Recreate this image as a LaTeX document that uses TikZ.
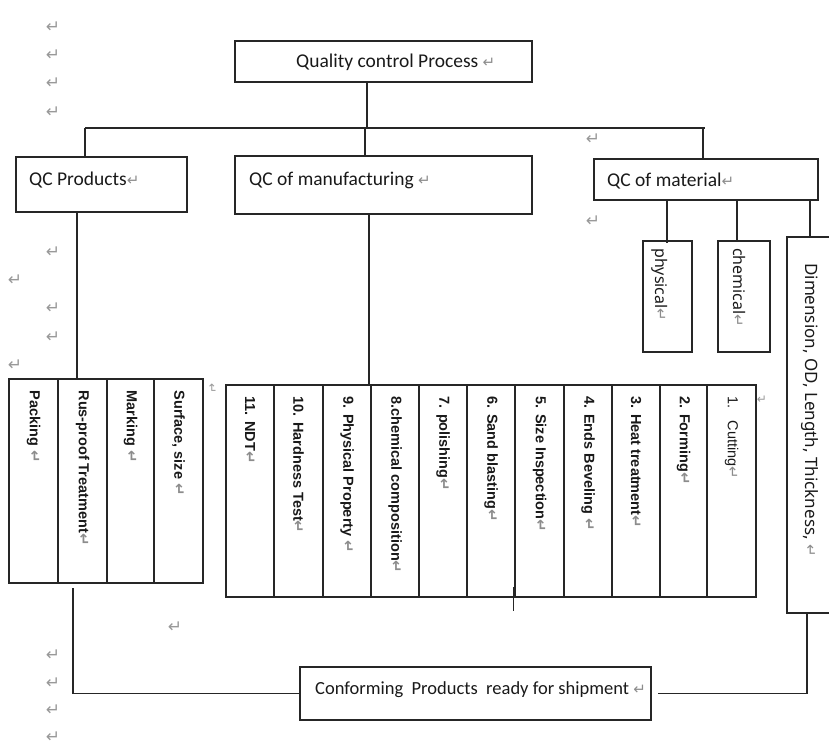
\documentclass[tikz,border=0pt]{standalone}
\usepackage{fontspec}
\setmainfont{Carlito}
\newfontfamily\arialf{Liberation Sans}
\newfontfamily\notof{Noto Sans}
\newfontfamily\dvf{DejaVu Sans}
\newcommand\rmk{{\dvf\color{black!45}\fontsize{15}{15}\selectfont ↵}}
\begin{document}
\begin{tikzpicture}[x=1pt,y=-1pt,
  box/.style={draw=black!85, line width=1.2pt, inner sep=0pt},
  cell/.style={draw=black!85, line width=1.2pt, inner sep=0pt},
  conn/.style={draw=black!85, line width=1.2pt},
  btext/.style={anchor=west, inner sep=0pt, text=black!90, font=\fontsize{19.5}{22}\selectfont},
  vtext/.style={rotate=-90, anchor=west, inner sep=0pt, text=black!90, font=\arialf\bfseries\fontsize{14.5}{16}\selectfont},
  vtextr/.style={rotate=-90, anchor=west, inner sep=0pt, text=black!90, font=\arialf\fontsize{14.5}{16}\selectfont},
  ntext/.style={rotate=-90, anchor=west, inner sep=0pt, text=black!90, font=\notof\fontsize{16}{18}\selectfont},
  wmark/.style={inner sep=0pt, text=black!40, font=\dvf\fontsize{17}{17}\selectfont}
]
\useasboundingbox (0,0) rectangle (829,747);

% top level
\node[box, minimum width=297pt, minimum height=41pt] (qcp) at (383.5,61.5) {};
\node[btext] (qcpt) at (296,62) {Quality control Process \rmk};

% second level
\node[box, minimum width=171pt, minimum height=55pt] (qcprod) at (101.5,184.5) {};
\node[btext] (qcprodt) at (29,180) {QC Products\rmk};
\node[box, minimum width=297pt, minimum height=58pt] (qcman) at (383.5,185) {};
\node[btext] (qcmant) at (249,180) {QC of manufacturing \rmk};
\node[box, minimum width=224pt, minimum height=41pt] (qcmat) at (706,179.5) {};
\node[btext] (qcmatt) at (607,181) {QC of material\rmk};

% material sub boxes
\node[box, minimum width=49pt, minimum height=111pt] (phys) at (667.5,296.5) {};
\node[ntext] (physt) at (660,248) {physical\rmk};
\node[box, minimum width=52pt, minimum height=111pt] (chem) at (744,296.5) {};
\node[ntext] (chemt) at (739,248) {chemical\rmk};
\node[box, minimum width=70pt, minimum height=376pt] (dim) at (822,425) {};
\node[ntext, font=\notof\fontsize{17}{19}\selectfont] (dimt) at (810,263) {Dimension, OD, Length, Thickness, \rmk};

% products table
\node[cell, minimum width=49pt, minimum height=204pt] (p1) at (33.5,481) {};
\node[cell, minimum width=49pt, minimum height=204pt] (p2) at (82.5,481) {};
\node[cell, minimum width=47pt, minimum height=204pt] (p3) at (130.5,481) {};
\node[cell, minimum width=49pt, minimum height=204pt] (p4) at (178.5,481) {};
\node[vtext] (p1t) at ([yshift=-12pt]p1.north) {Packing \rmk};
\node[vtext] (p2t) at ([yshift=-12pt]p2.north) {Rus-proof Treatment\rmk};
\node[vtext] (p3t) at ([yshift=-12pt]p3.north) {Marking \rmk};
\node[vtext] (p4t) at ([yshift=-12pt]p4.north) {Surface, size \rmk};

% manufacturing table
\node[cell, minimum width=48pt, minimum height=212pt] (m11) at (250,491) {};
\node[cell, minimum width=49pt, minimum height=212pt] (m10) at (298.5,491) {};
\node[cell, minimum width=48pt, minimum height=212pt] (m9) at (347,491) {};
\node[cell, minimum width=48pt, minimum height=212pt] (m8) at (395,491) {};
\node[cell, minimum width=48pt, minimum height=212pt] (m7) at (443,491) {};
\node[cell, minimum width=48pt, minimum height=212pt] (m6) at (491,491) {};
\node[cell, minimum width=49pt, minimum height=212pt] (m5) at (539.5,491) {};
\node[cell, minimum width=48pt, minimum height=212pt] (m4) at (588,491) {};
\node[cell, minimum width=48pt, minimum height=212pt] (m3) at (636,491) {};
\node[cell, minimum width=47pt, minimum height=212pt] (m2) at (683.5,491) {};
\node[cell, minimum width=49pt, minimum height=212pt] (m1) at (731.5,491) {};
\node[vtext] (m11t) at ([yshift=-12pt]m11.north) {11. NDT\rmk};
\node[vtext] (m10t) at ([yshift=-12pt]m10.north) {10. Hardness Test\rmk};
\node[vtext] (m9t) at ([yshift=-12pt]m9.north) {9. Physical Property \rmk};
\node[vtext] (m8t) at ([yshift=-12pt]m8.north) {8.chemical composition\rmk};
\node[vtext] (m7t) at ([yshift=-12pt]m7.north) {7. polishing\rmk};
\node[vtext] (m6t) at ([yshift=-12pt]m6.north) {6. Sand blasting\rmk};
\node[vtext] (m5t) at ([yshift=-12pt]m5.north) {5. Size Inspection\rmk};
\node[vtext] (m4t) at ([yshift=-12pt]m4.north) {4. Ends Beveling \rmk};
\node[vtext] (m3t) at ([yshift=-12pt]m3.north) {3. Heat treatment\rmk};
\node[vtext] (m2t) at ([yshift=-12pt]m2.north) {2. Forming\rmk};
\node[vtextr] (m1t) at ([yshift=-12pt]m1.north) {1.\ \ \ Cutting\rmk};

% final box
\node[box, minimum width=351pt, minimum height=53pt] (conf) at (475.5,693.5) {};
\node[btext, font=\fontsize{18.5}{21}\selectfont] (conft) at (315,690) {Conforming\ \ Products\ \ ready for shipment \rmk};

% connectors
\coordinate (busL) at (85,128);
\coordinate (busR) at (705,128);
\coordinate (j1) at (367,128);
\coordinate (j2) at (365,128);
\coordinate (j3) at (703,128);
\coordinate (j4) at (77,0);
\coordinate (j5) at (369,0);
\coordinate (j6) at (667,0);
\coordinate (j7) at (737,0);
\coordinate (j8) at (810,0);
\coordinate (j9) at (807,0);
\coordinate (j10) at (73,588);
\draw[conn] (j1 |- qcp.south) -- (j1);
\draw[conn] (busL) -- (busR);
\draw[conn] (busL) -- (busL |- qcprod.north);
\draw[conn] (j2) -- (j2 |- qcman.north);
\draw[conn] (j3) -- (j3 |- qcmat.north);
\draw[conn] (j4 |- qcprod.south) -- (j4 |- p2.north);
\draw[conn] (j5 |- qcman.south) -- (j5 |- m9.north);
\draw[conn] (j6 |- qcmat.south) -- ([yshift=-3pt]j6 |- phys.north);
\draw[conn] (j7 |- qcmat.south) -- (j7 |- chem.north);
\draw[conn] (j8 |- qcmat.south) -- (j8 |- dim.north);
\draw[conn] (j9 |- dim.south) |- ([xshift=6pt]conf.east);
\draw[conn] (j10) |- (conf.west);
\draw[conn, line width=1pt] (513,587) -- (513,611);

% formatting marks
\foreach \mx/\my in {53/27,53/55,53/83,53/112,593/139,593/221,53/252,15/280,53/308,53/337,15/365,175/627,53/655,53/683,53/710,53/737}
  \node[wmark] at (\mx,\my) {↵};
\node[wmark, font=\dvf\fontsize{12}{12}\selectfont] at (762,400) {↵};
\node[wmark, rotate=-90, font=\dvf\fontsize{12}{12}\selectfont] at (212,389) {↵};
\end{tikzpicture}
\end{document}
